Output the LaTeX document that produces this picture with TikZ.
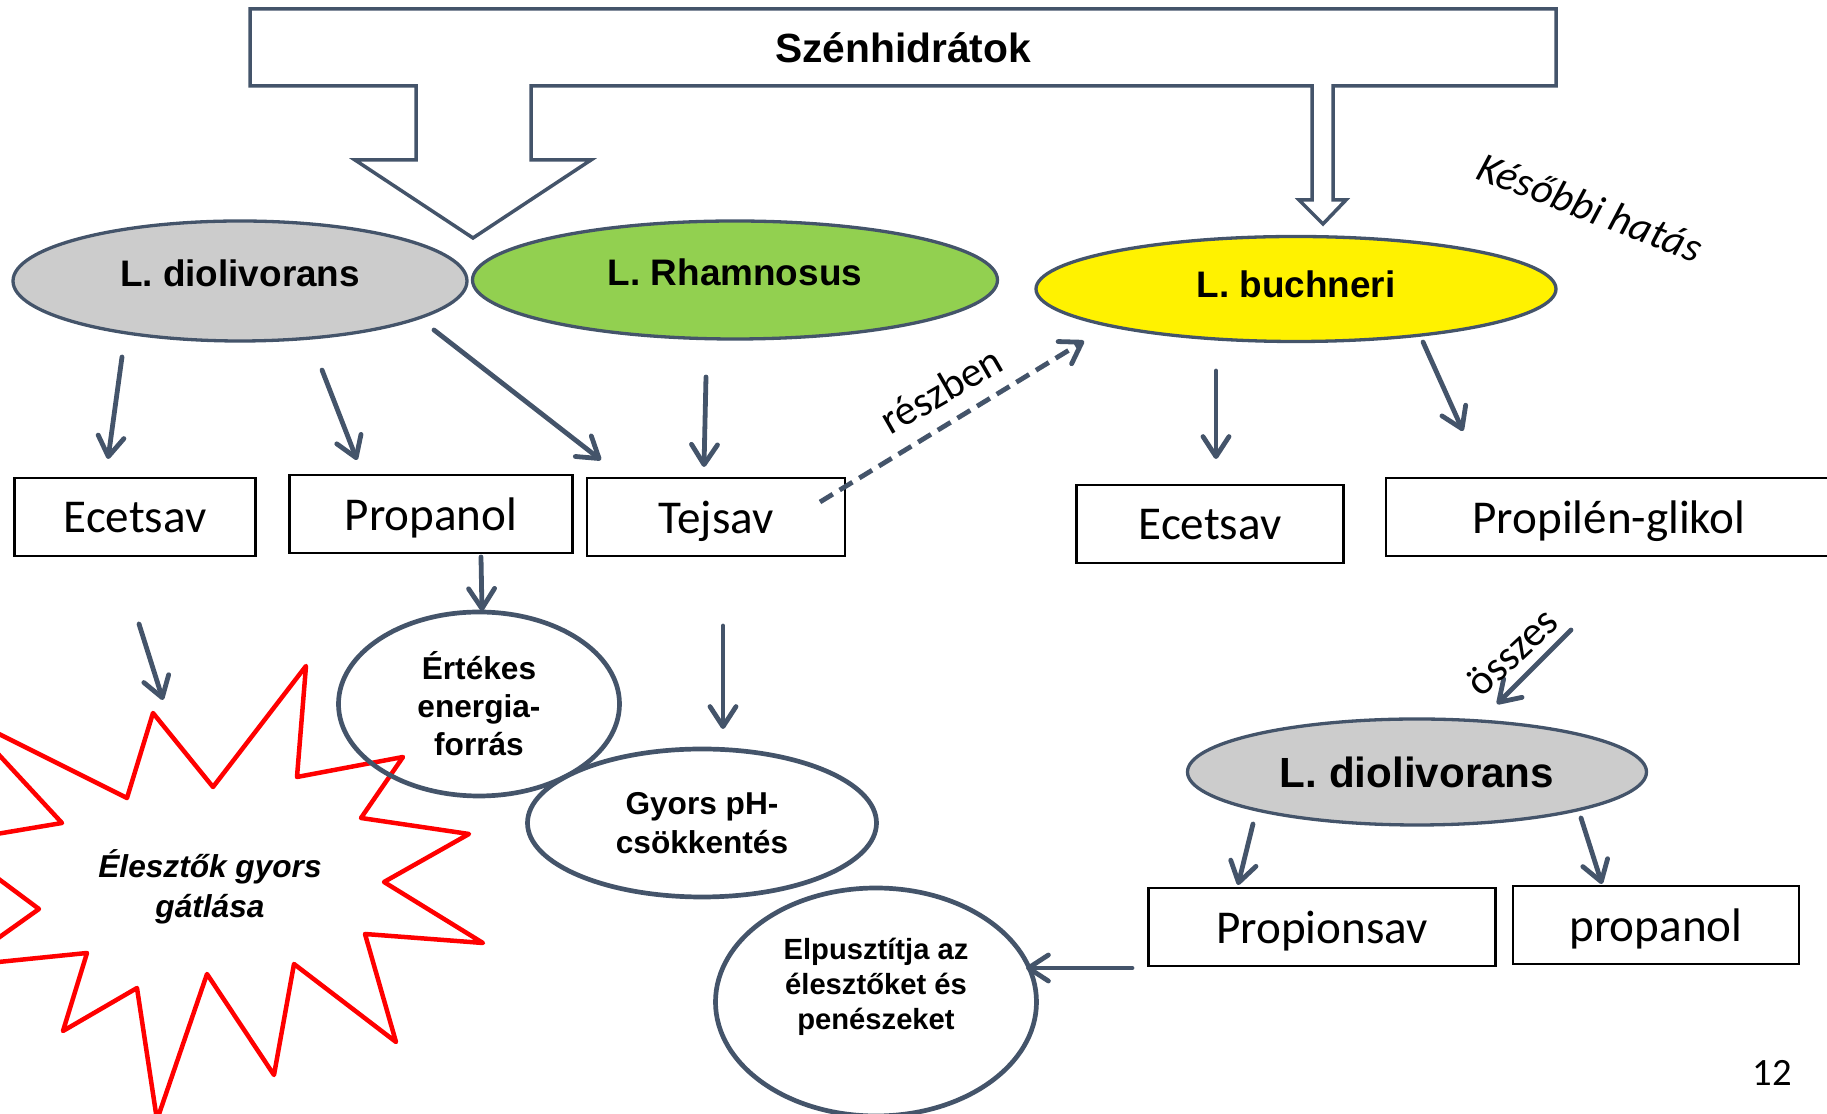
\documentclass[tikz,border=0pt]{standalone}
\usepackage{fontspec}
\setmainfont{Liberation Sans}
\newfontfamily\carl{Carlito}
\usetikzlibrary{arrows.meta, shapes.geometric, calc}
\definecolor{slate}{HTML}{44546A}
\definecolor{dioGray}{HTML}{CCCCCC}
\definecolor{rhamGreen}{HTML}{92D050}
\tikzset{
  bact/.style={ellipse, draw=slate, line width=0.33mm, inner sep=0pt, font=\bfseries\fontsize{10.5}{12.6}\selectfont},
  prod/.style={draw=black, line width=0.22mm, inner sep=0pt, minimum height=7.8mm, text depth=0pt, font=\carl\fontsize{13.4}{16}\selectfont},
  effect/.style={ellipse, draw=slate, line width=0.47mm, inner sep=0pt, align=center, font=\bfseries\fontsize{9}{10.8}\selectfont},
  arr/.style={draw=slate, line width=0.48mm, line cap=round, -{Straight Barb[length=2mm, width=2.6mm, round]}},
  note/.style={font=\carl\fontsize{12}{14}\selectfont, inner sep=1pt}
}

\begin{document}
\begin{tikzpicture}[x=0.1mm, y=-0.1mm]
\useasboundingbox (0,0) rectangle (1827,1114);

% Szenhidratok block arrow
\draw[slate, line width=0.35mm, fill=white]
  (250,9) -- (1556,9) -- (1556,86) -- (1333,86) -- (1333,200) -- (1346,200)
  -- (1323,224) -- (1299,200) -- (1312,200) -- (1312,86) -- (531,86)
  -- (531,160) -- (591,160) -- (473,238) -- (355,160) -- (416,160)
  -- (416,86) -- (250,86) -- cycle;
\node[font=\bfseries\fontsize{11.6}{14}\selectfont] (carb) at (903,48) {Szénhidrátok};

% star
\draw[red, line width=0.45mm, line join=round]
  (306,666) -- (297,777) -- (403,757) -- (361,818) -- (469,834) -- (384,882)
  -- (483,943) -- (365,934) -- (396,1042) -- (294,964) -- (274,1075) -- (207,974)
  -- (157,1120) -- (137,988) -- (63,1031) -- (87,953) -- (-41,966) -- (39,909)
  -- (-51,842) -- (62,823) -- (-37,716) -- (127,798) -- (153,713) -- (213,787) -- cycle;
\node[align=center, font=\bfseries\itshape\fontsize{9}{11.3}\selectfont] (elesz) at (210,887) {Élesztők gyors\\gátlása};

% bacteria
\node[bact, fill=dioGray, minimum width=45.4mm, minimum height=12mm, text depth=4.5pt] (dio) at (240,281) {L. diolivorans};
\node[bact, fill=rhamGreen, minimum width=52.5mm, minimum height=11.8mm, text depth=4.5pt] (rham) at (735,280) {L. Rhamnosus};
\node[bact, fill=yellow, minimum width=52mm, minimum height=10.5mm, text depth=3pt] (buch) at (1296,289) {L. buchneri};
\node[bact, fill=dioGray, minimum width=45.9mm, minimum height=10.6mm, font=\bfseries\fontsize{12}{14}\selectfont] (diob) at (1417,772) {L. diolivorans};

% products
\node[prod, minimum width=24.1mm] (ecetA) at (135,517) {Ecetsav};
\node[prod, minimum width=28.3mm] (propA) at (431,514) {Propanol};
\node[prod, minimum width=25.8mm] (tej) at (716,517) {Tejsav};
\node[prod, minimum width=26.7mm] (ecetB) at (1210,524) {Ecetsav};
\node[prod, minimum width=44.6mm] (pg) at (1609,517) {Propilén-glikol};
\node[prod, minimum width=34.7mm] (propion) at (1322,927) {Propionsav};
\node[prod, minimum width=28.6mm] (propB) at (1656,925) {propanol};

% effects
\node[effect, minimum width=28.1mm, minimum height=18.4mm] (ert) at (479,704) {Értékes\\energia-\\forrás};
\node[effect, minimum width=34.9mm, minimum height=14.8mm, font=\bfseries\fontsize{9}{11}\selectfont] (gyors) at (702,823) {Gyors pH-\\csökkentés};
\node[effect, minimum width=32.1mm, minimum height=22.8mm, text depth=10.2pt, font=\bfseries\fontsize{8.3}{9.9}\selectfont] (elp) at (876,1002) {Elpusztítja az\\élesztőket és\\penészeket};

% arrows
\draw[arr] ($(dio)+(-118,76)$) -- ($(ecetA)+(-27,-58)$);
\draw[arr] ($(dio)+(82,89)$) -- ($(propA)+(-74,-54)$);
\draw[arr] ($(dio)+(194,49)$) -- ($(tej)+(-115,-57)$);
\draw[arr] ($(rham)+(-29,97)$) -- ($(tej)+(-12,-50)$);
\draw[arr, line cap=butt, dash pattern=on 1.5mm off 0.8mm] ($(tej)+(104,-15)$) -- ($(buch)+(-212,52)$);
\draw[arr] ($(buch)+(-80,82)$) -- ($(ecetB)+(6,-65)$);
\draw[arr] ($(buch)+(127,53)$) -- ($(pg)+(-146,-86)$);
\draw[arr] ($(propA)+(50,43)$) -- ($(ert)+(3,-93)$);
\draw[arr] ($(ecetA)+(4,107)$) -- ($(elesz)+(-47,-187)$);
\draw[arr] ($(tej)+(7,109)$) -- ($(gyors)+(21,-94)$);
\draw[arr] ($(pg)+(-38,113)$) -- ($(diob)+(80,-68)$);
\draw[arr] ($(diob)+(-164,52)$) -- ($(propion)+(-84,-42)$);
\draw[arr] ($(diob)+(164,46)$) -- ($(propB)+(-54,-41)$);
\draw[arr] ($(propion)+(-190,41)$) -- ($(elp)+(150,-34)$);

% labels
\node[note, font=\carl\itshape\fontsize{12}{14}\selectfont, rotate=-21] (later) at (1590,207) {Későbbi hatás};
\node[note, rotate=30] (part) at (941,390) {részben};
\node[note, rotate=43] (all) at (1512,652) {összes};
\node[note, font=\carl\fontsize{11}{13}\selectfont] (page) at (1772,1073) {12};
\end{tikzpicture}
\end{document}
